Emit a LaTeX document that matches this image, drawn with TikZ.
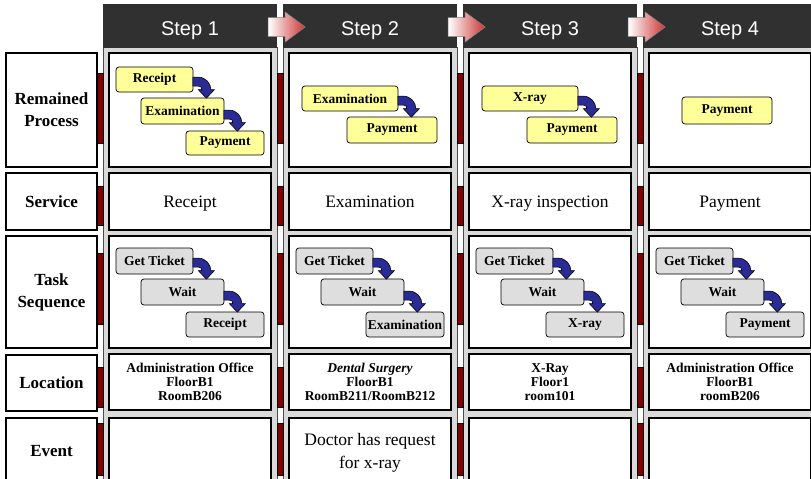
\documentclass[tikz,border=0pt]{standalone}
\usepackage{fontspec}
\setmainfont{Liberation Serif}
\newfontfamily\stepfont{Liberation Sans}
\usetikzlibrary{calc}

\definecolor{headgray}{RGB}{48,48,48}
\definecolor{colgray}{RGB}{217,217,217}
\definecolor{barred}{RGB}{128,0,0}
\definecolor{procyellow}{RGB}{255,255,153}
\definecolor{taskgray}{RGB}{222,222,222}
\definecolor{bendblue}{RGB}{43,43,150}
\definecolor{tipred}{RGB}{204,51,51}

% blue bent arrow from the right side of one box down onto the next box
\newcommand{\bendarrow}[2]{%
  \coordinate (s) at ($(#1.east |- #2.north)+(0,-16)$);
  \begin{scope}[shift={(s)}]
  \draw[bluebend] (-0.5,-4.5) -- (5,-4.5) .. controls (12.5,-4.5) and (17.5,2) .. (17.5,8) -- (21,8) -- (13,16.5) -- (5,8) -- (8.5,8) .. controls (8.5,5) and (7,4.5) .. (5,4.5) -- (-0.5,4.5) -- cycle;
  \end{scope}}

% shaded arrow between two step headers
\newcommand{\steparrow}[1]{%
  \begin{scope}[shift={(#1.east)}]
  \shadedraw[stepgo] (-9,-8.5) -- (8,-8.5) -- (8,-14) -- (28,1) -- (8,16) -- (8,10.5) -- (-9,10.5) -- cycle;
  \end{scope}}

\begin{document}
\begin{tikzpicture}[x=1pt,y=-1pt]
\tikzstyle{every node}+=[inner sep=0pt]
\tikzstyle{rowlabel}=[draw=black, line width=1.6pt, fill=white, minimum width=91pt, align=center, font=\fontsize{17}{22}\selectfont\bfseries]
\tikzstyle{cell}=[draw=black, line width=1.2pt, fill=white, minimum width=162pt, align=center]
\tikzstyle{stephead}=[fill=headgray, text=white, minimum width=174pt, minimum height=44pt, text height=18pt, text depth=0pt, font=\stepfont\fontsize{20}{20}\selectfont]
\tikzstyle{procbox}=[draw=black, line width=0.7pt, fill=procyellow, rounded corners=3pt, font=\fontsize{13.5}{14}\selectfont\bfseries]
\tikzstyle{taskbox}=[procbox, fill=taskgray]
\tikzstyle{bluebend}=[draw=black, line width=0.6pt, fill=bendblue]
\tikzstyle{stepgo}=[draw=gray, line width=0.5pt, left color=white, right color=tipred]
\tikzstyle{redbar}=[fill=barred, draw=black, line width=0.5pt]
\tikzstyle{service}=[font=\fontsize{17.5}{23}\selectfont, text depth=0pt]
\tikzstyle{place}=[font=\fontsize{13.5}{14}\selectfont\bfseries]

\useasboundingbox (0,0) rectangle (811,479);
\clip (0,0) rectangle (811,479);
\fill[white] (0,0) rectangle (811,479);

% columns
\draw[fill=colgray, draw=black!70, line width=0.8pt] (103,47) rectangle (277,490);
\draw[fill=colgray, draw=black!70, line width=0.8pt] (283,47) rectangle (457,490);
\draw[fill=colgray, draw=black!70, line width=0.8pt] (463,47) rectangle (637,490);
\draw[fill=colgray, draw=black!70, line width=0.8pt] (643,47) rectangle (817,490);

% headers
\node[stephead] (h1) at (190,26) {Step 1};
\node[stephead] (h2) at (370,26) {Step 2};
\node[stephead] (h3) at (550,26) {Step 3};
\node[stephead] (h4) at (730,26) {Step 4};
\steparrow{h1}
\steparrow{h2}
\steparrow{h3}

% row labels
\node[rowlabel, minimum height=114pt] (remained) at (51.5,110) {Remained\\Process};
\node[rowlabel, minimum height=57pt] (service) at (51.5,201.5) {Service};
\node[rowlabel, minimum height=112pt] (tasks) at (51.5,292) {Task\\Sequence};
\node[rowlabel, minimum height=56pt] (location) at (51.5,383) {Location};
\node[rowlabel, minimum height=66pt] (event) at (51.5,451) {Event};

% cells
\node[cell, minimum height=114pt] (c11) at (190,110) {};
\node[cell, minimum height=114pt] (c21) at (370,110) {};
\node[cell, minimum height=114pt] (c31) at (550,110) {};
\node[cell, minimum height=114pt] (c41) at (730,110) {};
\node[cell, service, minimum height=57pt] (c12) at (190,201.5) {Receipt};
\node[cell, service, minimum height=57pt] (c22) at (370,201.5) {Examination};
\node[cell, service, minimum height=57pt] (c32) at (550,201.5) {X-ray inspection};
\node[cell, service, minimum height=57pt] (c42) at (730,201.5) {Payment};
\node[cell, minimum height=112pt] (c13) at (190,292) {};
\node[cell, minimum height=112pt] (c23) at (370,292) {};
\node[cell, minimum height=112pt] (c33) at (550,292) {};
\node[cell, minimum height=112pt] (c43) at (730,292) {};
\node[cell, place, minimum height=56pt] (c14) at (190,382) {Administration Office\\FloorB1\\RoomB206};
\node[cell, place, minimum height=56pt] (c24) at (370,382) {\textit{Dental Surgery}\\FloorB1\\RoomB211/RoomB212};
\node[cell, place, minimum height=56pt] (c34) at (550,382) {X-Ray\\Floor1\\room101};
\node[cell, place, minimum height=56pt] (c44) at (730,382) {Administration Office\\FloorB1\\roomB206};
\node[cell, minimum height=66pt] (c15) at (190,451) {};
\node[cell, service, minimum height=66pt] (c25) at (370,451) {Doctor has request\\for x-ray};
\node[cell, minimum height=66pt] (c35) at (550,451) {};
\node[cell, minimum height=66pt] (c45) at (730,451) {};

% red links
\path[redbar] (97,73) rectangle (103,143) (277,73) rectangle (283,143) (457,73) rectangle (463,143) (637,73) rectangle (643,143);
\path[redbar] (97,186) rectangle (103,225) (277,186) rectangle (283,225) (457,186) rectangle (463,225) (637,186) rectangle (643,225);
\path[redbar] (97,253) rectangle (103,324) (277,253) rectangle (283,324) (457,253) rectangle (463,324) (637,253) rectangle (643,324);
\path[redbar] (97,367) rectangle (103,407) (277,367) rectangle (283,407) (457,367) rectangle (463,407) (637,367) rectangle (643,407);
\path[redbar] (97,423) rectangle (103,475) (277,423) rectangle (283,475) (457,423) rectangle (463,475) (637,423) rectangle (643,475);

% remained process
\node[procbox, minimum width=77pt, minimum height=25pt] (p11) at (154.5,79.5) {Receipt};
\node[procbox, minimum width=83pt, minimum height=26pt] (p12) at (182.5,111) {Examination};
\node[procbox, minimum width=78pt, minimum height=24pt] (p13) at (225,143) {Payment};
\node[procbox, minimum width=96pt, minimum height=25pt] (p21) at (350,98.5) {Examination};
\node[procbox, minimum width=90pt, minimum height=26pt] (p22) at (392,130) {Payment};
\node[procbox, minimum width=96pt, minimum height=25pt] (p31) at (530,98.5) {X-ray};
\node[procbox, minimum width=90pt, minimum height=26pt] (p32) at (572,130) {Payment};
\node[procbox, minimum width=90pt, minimum height=27pt] (p41) at (727,110.5) {Payment};
\bendarrow{p11}{p12}
\bendarrow{p12}{p13}
\bendarrow{p21}{p22}
\bendarrow{p31}{p32}

% task sequence
\node[taskbox, minimum width=77pt, minimum height=26pt] (t11) at (154.5,261) {Get Ticket};
\node[taskbox, minimum width=83pt, minimum height=26pt] (t12) at (182.5,292) {Wait};
\node[taskbox, minimum width=78pt, minimum height=25pt] (t13) at (225,324.5) {Receipt};
\node[taskbox, minimum width=77pt, minimum height=26pt] (t21) at (334.5,261) {Get Ticket};
\node[taskbox, minimum width=83pt, minimum height=26pt] (t22) at (362.5,292) {Wait};
\node[taskbox, minimum width=78pt, minimum height=25pt] (t23) at (405,324.5) {Examination};
\node[taskbox, minimum width=77pt, minimum height=26pt] (t31) at (514.5,261) {Get Ticket};
\node[taskbox, minimum width=83pt, minimum height=26pt] (t32) at (542.5,292) {Wait};
\node[taskbox, minimum width=78pt, minimum height=25pt] (t33) at (585,324.5) {X-ray};
\node[taskbox, minimum width=77pt, minimum height=26pt] (t41) at (694.5,261) {Get Ticket};
\node[taskbox, minimum width=83pt, minimum height=26pt] (t42) at (722.5,292) {Wait};
\node[taskbox, minimum width=78pt, minimum height=25pt] (t43) at (765,324.5) {Payment};
\bendarrow{t11}{t12}
\bendarrow{t12}{t13}
\bendarrow{t21}{t22}
\bendarrow{t22}{t23}
\bendarrow{t31}{t32}
\bendarrow{t32}{t33}
\bendarrow{t41}{t42}
\bendarrow{t42}{t43}
\end{tikzpicture}
\end{document}
